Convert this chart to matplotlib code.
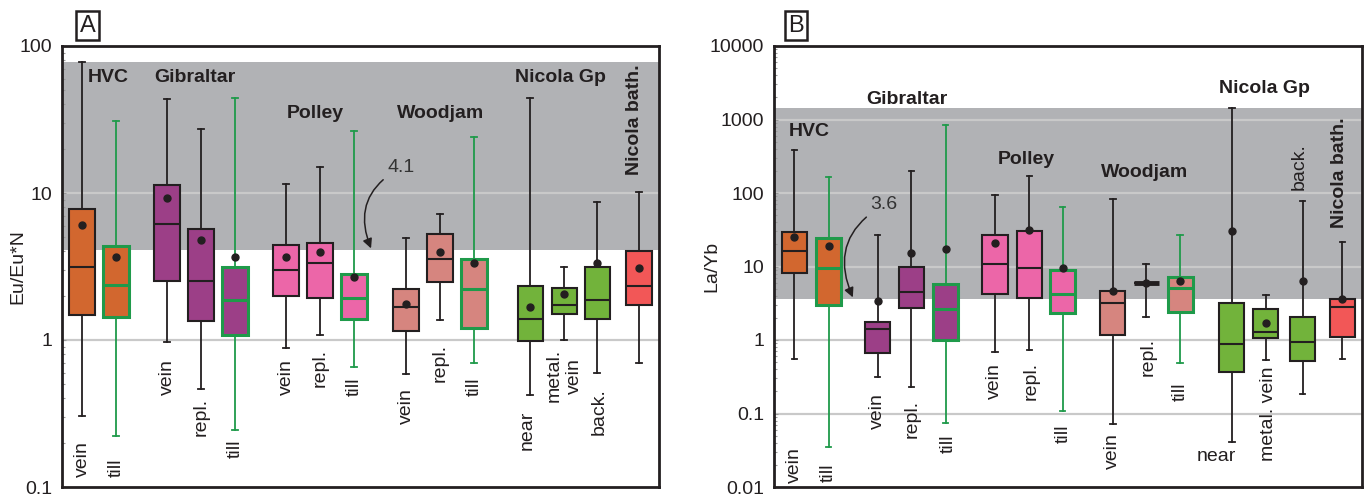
import matplotlib
matplotlib.use("Agg")
import matplotlib.pyplot as plt
from matplotlib.ticker import LogLocator, FixedLocator, NullFormatter

plt.rcParams['font.family'] = ['Liberation Sans', 'DejaVu Sans']

# ---- data (box stats per sample set) ----
kinds = ["vein", "till", "vein", "repl.", "till", "vein", "repl.", "till",
         "vein", "repl.", "till", "near", "metal. vein", "back.", "bath"]
groups = ["HVC", "HVC", "Gibraltar", "Gibraltar", "Gibraltar", "Polley", "Polley", "Polley",
          "Woodjam", "Woodjam", "Woodjam", "Nicola Gp", "Nicola Gp", "Nicola Gp", "Nicola bath."]

# panel A: Eu/Eu*N
a_lo = [0.305, 0.221, 0.97, 0.466, 0.243, 0.887, 1.08, 0.659, 0.59, 1.37, 0.698, 0.42, 1.0, 0.595, 0.698]
a_q1 = [1.47, 1.43, 2.52, 1.35, 1.08, 1.99, 1.92, 1.40, 1.16, 2.48, 1.20, 0.98, 1.5, 1.40, 1.72]
a_med = [3.15, 2.37, 6.2, 2.52, 1.86, 2.98, 3.32, 1.94, 1.68, 3.57, 2.22, 1.40, 1.74, 1.88, 2.32]
a_q3 = [7.8, 4.36, 11.4, 5.69, 3.15, 4.45, 4.57, 2.8, 2.21, 5.26, 3.57, 2.34, 2.25, 3.15, 4.0]
a_hi = [78, 30.7, 43.6, 27.1, 44, 11.5, 15.1, 26.4, 4.92, 7.23, 24.0, 44.5, 3.15, 8.69, 10.2]
a_mean = [6.06, 3.65, 9.25, 4.77, 3.65, 3.65, 3.94, 2.68, 1.77, 3.99, 3.32, 1.69, 2.07, 3.32, 3.08]
a_band = (4.1, 78)

# panel B: La/Yb
b_lo = [0.55, 0.035, 0.314, 0.23, 0.075, 0.69, 0.72, 0.109, 0.072, 2.04, 0.49, 0.041, 0.54, 0.186, 0.56]
b_q1 = [8.24, 2.97, 0.67, 2.7, 0.99, 4.2, 3.73, 2.33, 1.17, 5.9, 2.38, 0.37, 1.05, 0.52, 1.1]
b_med = [16.4, 9.55, 1.43, 4.5, 2.64, 10.9, 9.6, 4.2, 3.16, 5.9, 5.15, 0.88, 1.27, 0.95, 2.84]
b_q3 = [29.2, 24.4, 1.76, 9.75, 5.72, 26.6, 30.7, 8.96, 4.69, 5.9, 7.27, 3.22, 2.61, 2.07, 3.65]
b_hi = [388, 165, 27.1, 199, 850, 95, 169, 64.5, 83.7, 10.9, 26.6, 1449, 4.1, 77.8, 21.5]
b_mean = [25.2, 19, 3.36, 15.1, 17.1, 20.7, 31.4, 9.6, 4.69, 5.9, 6.35, 30.7, 1.72, 6.35, 3.58]
b_band = (3.6, 1450)

# ---- layout / style ----
colors = {"HVC": "#D2672F", "Gibraltar": "#9C3F87", "Polley": "#EC66A8",
          "Woodjam": "#D6857F", "Nicola Gp": "#72B33B", "Nicola bath.": "#F25757"}
TILL = "#1F9A4A"
INK = "#231f20"
BAND = "#B1B2B5"

a_pos = [0, 1, 2.5, 3.5, 4.5, 6, 7, 8, 9.53, 10.53, 11.53, 13.18, 14.18, 15.15, 16.38]
b_pos = [0, 1.01, 2.45, 3.44, 4.45, 5.9, 6.91, 7.89, 9.37, 10.35, 11.35, 12.87, 13.87, 14.95, 16.12]

# category label: (x, y_top, text)
a_cat = [(0, 0.206, "vein"), (1, 0.157, "till"), (2.5, 0.743, "vein"), (3.5, 0.403, "repl."),
         (4.5, 0.209, "till"), (6, 0.743, "vein"), (7, 0.868, "repl."), (8, 0.56, "till"),
         (9.53, 0.471, "vein"), (10.53, 0.94, "repl."), (11.53, 0.56, "till"),
         (13.1, 0.329, "near"), (14.18, 0.868, "metal.\nvein"), (15.2, 0.471, "back.")]
b_cat = [(0, 0.035, "vein"), (1.0, 0.0212, "till"), (2.43, 0.19, "vein"), (3.47, 0.153, "repl."),
         (4.52, 0.051, "till"), (5.9, 0.487, "vein"), (6.97, 0.5, "repl."), (7.91, 0.07, "till"),
         (9.37, 0.054, "vein"), (10.4, 1.06, "repl."), (11.35, 0.268, "till"),
         (13.94, 0.43, "metal. vein"), (14.86, 479, "back.")]

# group labels: (x_left, y_center, text)
a_grp = [(0.18, 61.5, "HVC"), (2.12, 61.5, "Gibraltar"), (6.03, 34.5, "Polley"),
         (9.26, 34.5, "Woodjam"), (12.74, 61.5, "Nicola Gp")]
b_grp = [(-0.16, 676, "HVC"), (2.11, 1900, "Gibraltar"), (5.99, 290, "Polley"),
         (9.02, 193, "Woodjam"), (12.49, 2680, "Nicola Gp")]

fig = plt.figure(figsize=(13.69, 4.95), dpi=100)
axA = fig.add_axes([62 / 1369, 1 - 487 / 495, 597 / 1369, 441 / 495])
axB = fig.add_axes([774 / 1369, 1 - 487 / 495, 588 / 1369, 441 / 495])


def draw_boxes(ax, pos, lo, q1, med, q3, hi, mean):
    for i in range(len(pos)):
        st = dict(whislo=lo[i], q1=q1[i], med=med[i], q3=q3[i], whishi=hi[i], mean=mean[i], fliers=[])
        till = kinds[i] == "till"
        ec = TILL if till else INK
        flat = q1[i] == q3[i]
        ax.bxp([st], positions=[pos[i]], widths=0.74, showmeans=True, patch_artist=True,
               manage_ticks=False, capwidths=0.16,
               boxprops=dict(facecolor=colors[groups[i]], edgecolor=ec, linewidth=2.2 if till else 1.5),
               medianprops=dict(color=ec, linewidth=3.5 if flat else (2.2 if till else 1.5)),
               whiskerprops=dict(color=ec, linewidth=1.3),
               capprops=dict(color=ec, linewidth=1.3),
               meanprops=dict(marker="o", markerfacecolor=INK, markeredgecolor=INK, markersize=5))


def style(ax, ylim, decades, band, xlim, ylabel, lx):
    ax.set_yscale("log")
    ax.set_ylim(*ylim)
    ax.set_xlim(*xlim)
    ax.axhspan(band[0], band[1], color=BAND, lw=0, zorder=0.5)
    for d in decades[1:-1]:
        ax.axhline(d, color="#C9C9C9", lw=1.6, zorder=1)
    ax.yaxis.set_major_locator(FixedLocator(decades))
    ax.set_yticklabels([("%g" % d) for d in decades])
    ax.yaxis.set_minor_locator(LogLocator(base=10, subs=range(2, 10)))
    ax.yaxis.set_minor_formatter(NullFormatter())
    ax.tick_params(axis="y", which="major", direction="in", length=3, width=0.8,
                   colors="#999999", labelcolor=INK, labelsize=14, pad=7)
    ax.tick_params(axis="y", which="minor", direction="in", length=2, width=0.8, colors="#999999")
    ax.set_xticks([])
    for s in ax.spines.values():
        s.set_linewidth(2)
        s.set_color(INK)
    ax.set_ylabel(ylabel, fontsize=14, color=INK)
    ax.yaxis.set_label_coords(lx, 0.5)


style(axA, (0.1, 100), [0.1, 1, 10, 100], a_band, (-0.59, 16.97), "Eu/Eu*N", -0.06)
style(axB, (0.01, 10000), [0.01, 0.1, 1, 10, 100, 1000, 10000], b_band, (-0.6, 16.70), "La/Yb", -0.092)

draw_boxes(axA, a_pos, a_lo, a_q1, a_med, a_q3, a_hi, a_mean)
draw_boxes(axB, b_pos, b_lo, b_q1, b_med, b_q3, b_hi, b_mean)

for x, y, t in a_cat:
    axA.text(x, y, t, rotation=90, ha="center", va="top", fontsize=14, color=INK,
             multialignment="center", zorder=5)
for x, y, t in b_cat:
    axB.text(x, y, t, rotation=90, ha="center", va="top", fontsize=14, color=INK, zorder=5)
axB.text(12.43, 0.0256, "near", ha="center", va="center", fontsize=14, color=INK, zorder=5)

for x, y, t in a_grp:
    axA.text(x, y, t, ha="left", va="center", fontsize=14, fontweight="bold", color=INK, zorder=5)
for x, y, t in b_grp:
    axB.text(x, y, t, ha="left", va="center", fontsize=14, fontweight="bold", color=INK, zorder=5)
axA.text(16.24, 75.4, "Nicola bath.", rotation=90, ha="center", va="top", fontsize=14,
         fontweight="bold", color=INK, zorder=5)
axB.text(16.05, 1081, "Nicola bath.", rotation=90, ha="center", va="top", fontsize=14,
         fontweight="bold", color=INK, zorder=5)

arrow = dict(arrowstyle="-|>", connectionstyle="arc3,rad=0.45", color=INK, lw=1.1,
             shrinkA=1, shrinkB=0, mutation_scale=14)
axA.annotate("4.1", xy=(8.5, 4.2), xytext=(8.97, 14.8), ha="left", va="center",
             fontsize=14, color="#333333", arrowprops=arrow, zorder=6)
axB.annotate("3.6", xy=(1.72, 3.8), xytext=(2.23, 68.7), ha="left", va="center",
             fontsize=14, color="#333333", arrowprops=arrow, zorder=6)

for x, t in [(87.5 / 1369, "A"), (796 / 1369, "B")]:
    fig.text(x, 1 - 25.5 / 495, t, ha="center", va="center", fontsize=17, color=INK,
             bbox=dict(boxstyle="square,pad=0.15", fc="white", ec=INK, lw=1.8))

fig.savefig("out.png", dpi=100)
